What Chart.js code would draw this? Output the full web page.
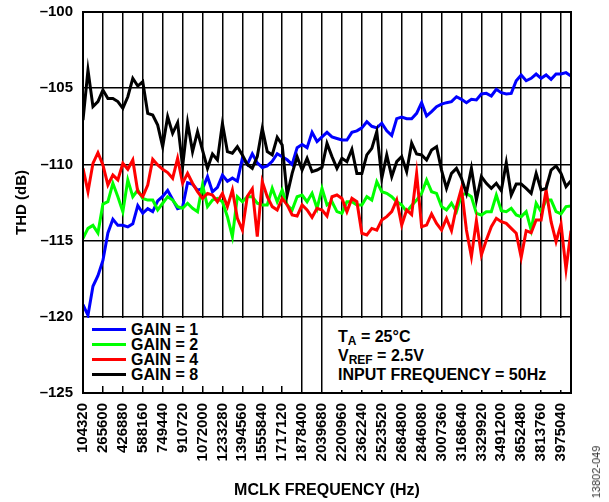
<!DOCTYPE html>
<html><head><meta charset="utf-8">
<script src="https://cdn.jsdelivr.net/npm/chart.js@4.4.1/dist/chart.umd.min.js"></script>
<style>
html,body{margin:0;padding:0;background:#fff;}
#wrap{position:relative;width:609px;height:502px;overflow:hidden;font-family:Arial,"Liberation Sans",sans-serif;font-weight:bold;color:#000;}
canvas{position:absolute;left:0;top:0;}
.box{position:absolute;background:#fff;}
#legend{left:85px;top:318px;width:215px;height:68px;font-size:16px;}
#legend .row{height:15px;line-height:15px;white-space:nowrap;padding-left:7px;}
#legend .sw{display:inline-block;width:34px;height:3px;vertical-align:middle;margin-right:5px;position:relative;top:-1px;}
#note{left:324px;top:318px;width:244px;height:72px;font-size:16px;}
#note .row{height:19px;line-height:19px;padding-left:14px;white-space:nowrap;}
#note sub{font-size:12px;vertical-align:-3px;line-height:0;}
#fig{position:absolute;left:596px;top:472px;transform:translate(-50%,-50%) rotate(-90deg);font-weight:normal;font-size:11px;color:#333;white-space:nowrap;}
</style></head><body>
<div id="wrap"><canvas id="c" width="609" height="502"></canvas>
<div id="legend" class="box"></div>
<div id="note" class="box">
<div class="row" style="margin-top:9px">T<sub>A</sub> = 25°C</div>
<div class="row">V<sub>REF</sub> = 2.5V</div>
<div class="row">INPUT FREQUENCY = 50Hz</div>
</div>
<div id="fig">13802-049</div>
</div>
<script>
// MCLK frequencies (Hz) of the measured points
const mclkHz = [104320,144640,184960,225280,265600,305920,346240,386560,426880,467200,
507520,547840,588160,628480,668800,709120,749440,789760,830080,870400,
910720,951040,991360,1031680,1072000,1112320,1152640,1192960,1233280,1273600,
1313920,1354240,1394560,1434880,1475200,1515520,1555840,1596160,1636480,1676800,
1717120,1757440,1797760,1838080,1878400,1918720,1959040,1999360,2039680,2080000,
2120320,2160640,2200960,2241280,2281600,2321920,2362240,2402560,2442880,2483200,
2523520,2563840,2604160,2644480,2684800,2725120,2765440,2805760,2846080,2886400,
2926720,2967040,3007360,3047680,3088000,3128320,3168640,3208960,3249280,3289600,
3329920,3370240,3410560,3450880,3491200,3531520,3571840,3612160,3652480,3692800,
3733120,3773440,3813760,3854080,3894400,3934720,3975040,4015360,4055680];

const xTickLabels = [104320,265600,426880,588160,749440,910720,1072000,1233280,1394560,
1555840,1717120,1878400,2039680,2200960,2362240,2523520,2684800,2846080,3007360,
3168640,3329920,3491200,3652480,3813760,3975040];
const yTickLabels = [-125,-120,-115,-110,-105,-100];

const seriesNames = ['GAIN = 1','GAIN = 2','GAIN = 4','GAIN = 8'];
const seriesColors = ['#0000ff','#00ff00','#ff0000','#000000'];

const gain1 = [-119.2,-119.9,-118.0,-117.3,-116.3,-114.5,-113.6,-114.0,-114.0,-114.1,
-113.9,-112.7,-113.2,-112.9,-113.1,-112.4,-112.1,-111.7,-112.3,-112.9,
-112.8,-111.2,-111.3,-111.7,-111.6,-110.8,-111.8,-111.5,-110.7,-111.1,
-110.9,-111.1,-109.6,-110.0,-109.3,-109.9,-110.2,-110.1,-109.8,-109.3,
-109.5,-109.7,-110.0,-108.9,-108.7,-108.9,-107.9,-108.5,-108.2,-107.9,
-108.2,-108.3,-108.4,-108.4,-107.9,-107.8,-107.6,-107.2,-107.5,-107.6,
-107.3,-107.8,-108.1,-107.0,-106.9,-107.0,-107.0,-106.65,-105.95,-106.82,
-106.54,-106.21,-106.04,-105.95,-105.88,-105.56,-105.73,-105.95,-105.73,-105.77,
-105.38,-105.34,-105.51,-105.07,-105.29,-105.38,-105.34,-104.51,-104.13,-104.51,
-104.35,-104.07,-104.35,-104.13,-104.42,-104.07,-104.07,-103.98,-104.2];

const gain2 = [-114.85,-114.2,-114.0,-114.5,-112.6,-112.45,-111.24,-112.12,-113.1,-111.02,
-112.12,-111.68,-112.23,-112.34,-112.34,-112.99,-112.55,-112.12,-112.34,-112.77,
-112.88,-112.55,-112.88,-113.1,-111.35,-112.77,-112.34,-112.23,-112.45,-113.43,
-114.74,-112.12,-112.45,-112.12,-112.12,-112.55,-112.66,-112.66,-111.57,-112.45,
-111.68,-112.66,-112.99,-112.12,-112.01,-112.45,-111.9,-112.88,-111.57,-112.66,
-112.45,-113.1,-113.21,-112.45,-112.45,-112.66,-112.66,-112.12,-112.34,-111.13,
-111.79,-111.9,-112.12,-112.45,-112.66,-113.1,-112.7,-112.34,-111.9,-111.02,
-111.79,-111.9,-112.77,-112.99,-112.55,-113.1,-112.01,-111.9,-112.12,-113.21,
-113.32,-113.1,-113.1,-112.01,-113.04,-113.1,-112.88,-113.32,-113.43,-113.1,
-114.3,-112.55,-113.1,-112.34,-112.34,-113.1,-113.25,-112.77,-112.73];

const gain4 = [-110.26,-111.79,-109.93,-109.23,-110.04,-111.35,-110.7,-111.02,-109.93,-110.32,
-109.71,-111.79,-112.12,-111.35,-109.67,-110.04,-110.32,-110.54,-110.91,-109.6,
-111.24,-110.59,-111.24,-111.79,-112.23,-111.9,-112.01,-112.45,-111.9,-112.77,
-111.68,-113.54,-114.3,-112.1,-111.6,-114.74,-111.13,-112.12,-112.77,-112.99,
-112.23,-112.66,-113.32,-113.39,-112.66,-112.99,-113.47,-112.88,-112.99,-113.39,
-112.12,-112.01,-112.23,-113.1,-112.23,-112.45,-114.52,-114.63,-114.2,-114.31,
-113.65,-113.43,-113.1,-112.34,-113.98,-112.99,-113.3,-110.59,-114.09,-113.98,
-113.25,-113.87,-114.3,-113.54,-114.35,-112.77,-111.57,-114.3,-116.05,-113.69,
-115.95,-114.96,-114.09,-113.54,-113.76,-113.87,-114.2,-114.52,-116.1,-114.35,
-114.48,-113.65,-113.65,-111.68,-113.76,-115.07,-113.91,-116.89,-114.35];

const gain8 = [-107.09,-103.81,-106.21,-105.88,-105.12,-105.67,-105.67,-105.88,-106.32,-105.56,
-104.35,-104.86,-104.57,-106.65,-106.76,-107.42,-108.84,-106.87,-107.96,-107.26,
-110.15,-107.26,-109.16,-107.85,-109.06,-110.26,-109.32,-109.71,-107.31,-109.16,
-109.27,-108.84,-109.38,-110.0,-110.26,-109.49,-107.63,-109.16,-109.38,-108.22,
-108.73,-112.01,-110.59,-109.49,-110.37,-109.6,-110.48,-110.37,-110.19,-108.62,
-109.49,-110.26,-109.6,-109.82,-109.01,-110.59,-110.59,-109.38,-108.95,-107.85,
-110.91,-109.38,-110.8,-109.82,-109.49,-110.48,-108.6,-109.32,-109.38,-109.71,
-109.06,-108.84,-110.37,-111.57,-110.59,-110.26,-110.91,-111.9,-110.26,-112.34,
-110.8,-111.24,-111.57,-111.24,-111.72,-109.89,-112.01,-111.29,-111.29,-111.57,
-111.9,-110.59,-111.68,-111.57,-110.37,-110.1,-110.59,-111.46,-111.07];

const seriesValues = [gain1, gain2, gain4, gain8];
const drawOrder = [3, 2, 1, 0];

const FONT = 'Arial, "Liberation Sans", sans-serif';

// HTML legend built from the series
const leg = document.getElementById('legend');
leg.innerHTML = seriesNames.map((n, i) =>
  '<div class="row"' + (i === 0 ? ' style="margin-top:4px"' : '') + '><span class="sw" style="background:' +
  seriesColors[i] + '"></span>' + n + '</div>').join('');

const frameBox = {
  id: 'frameBox',
  afterDatasetsDraw(chart) {
    const a = chart.chartArea, ctx = chart.ctx;
    ctx.save();
    ctx.strokeStyle = '#000';
    ctx.lineWidth = 2;
    ctx.strokeRect(a.left, a.top, a.right - a.left, a.bottom - a.top);
    ctx.restore();
  }
};

new Chart(document.getElementById('c'), {
  type: 'line',
  data: {
    datasets: seriesNames.map((n, i) => ({
      label: n,
      data: mclkHz.map((f, k) => ({x: f, y: seriesValues[i][k]})),
      borderColor: seriesColors[i],
      backgroundColor: seriesColors[i],
      borderWidth: 3,
      pointRadius: 0,
      tension: 0,
      fill: false,
      order: drawOrder[i]
    }))
  },
  options: {
    responsive: false,
    animation: false,
    devicePixelRatio: 1,
    layout: {padding: {left: 0, top: 12, right: 38, bottom: 0}},
    plugins: {legend: {display: false}, tooltip: {enabled: false}},
    scales: {
      x: {
        type: 'linear',
        min: mclkHz[0],
        max: mclkHz[mclkHz.length - 1],
        afterBuildTicks(s) { s.ticks = xTickLabels.map(v => ({value: v})); },
        afterFit(s) { s.height = 109; s.paddingLeft = 0; s.paddingRight = 0; },
        grid: {color: '#000', lineWidth: 1.5, drawTicks: false},
        border: {display: true, color: '#000', width: 2},
        ticks: {
          autoSkip: false, minRotation: 90, maxRotation: 90, padding: 10,
          color: '#000', font: {family: FONT, size: 15, weight: 'bold'},
          callback: v => String(v)
        },
        title: {display: true, text: 'MCLK FREQUENCY (Hz)', color: '#000',
          font: {family: FONT, size: 16, weight: 'bold'}, padding: {top: 0, bottom: 2}}
      },
      y: {
        min: yTickLabels[0],
        max: yTickLabels[yTickLabels.length - 1],
        afterBuildTicks(s) { s.ticks = yTickLabels.map(v => ({value: v})); },
        afterFit(s) { s.width = 83; s.paddingTop = 0; s.paddingBottom = 0; },
        grid: {color: '#000', lineWidth: 1.5, drawTicks: false},
        border: {display: true, color: '#000', width: 2},
        ticks: {
          padding: 10, color: '#000', font: {family: FONT, size: 15, weight: 'bold'},
          callback: v => '\u2013' + Math.abs(v)
        },
        title: {display: true, text: 'THD (dB)', color: '#000',
          font: {family: FONT, size: 15, weight: 'bold'}, padding: {top: 13, bottom: 0}}
      }
    }
  },
  plugins: [frameBox]
});
</script>
</body></html>
